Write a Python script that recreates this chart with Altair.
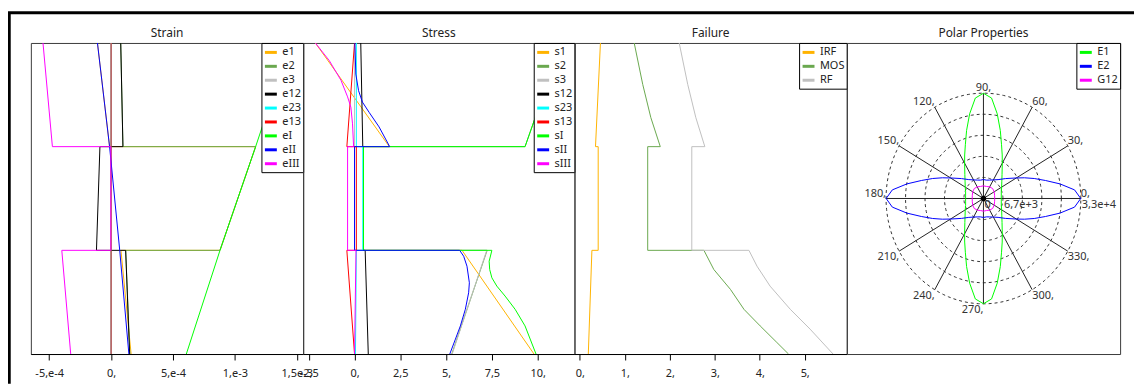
import altair as alt
import pandas as pd

# ---------------- Strain ----------------
strain_names = ["e1", "e2", "e3", "e12", "e23", "e13", "eI", "eII", "eIII"]
strain_z = [0, 1, 1, 2, 2, 3]
strain_e1 = [1.62e-4, 0.80e-4, 8.80e-4, 11.68e-4, -0.12e-4, -1.10e-4]
strain_e2 = [1.52e-4, 1.18e-4, 8.80e-4, 11.68e-4, 0.96e-4, 0.78e-4]
strain_e3 = [0.0, 0.0, 0.0, 0.0, 0.0, 0.0]
strain_e12 = [1.50e-4, 1.18e-4, -1.18e-4, -0.90e-4, 0.96e-4, 0.78e-4]
strain_e23 = [0.0, 0.0, 0.0, 0.0, 0.0, 0.0]
strain_e13 = [0.0, 0.0, 0.0, 0.0, 0.0, 0.0]
strain_eI = [6.08e-4, 8.80e-4, 8.80e-4, 11.68e-4, 11.68e-4, 14.48e-4]
strain_eII = [1.44e-4, 0.70e-4, 0.70e-4, -0.12e-4, -0.12e-4, -1.10e-4]
strain_eIII = [-3.26e-4, -3.98e-4, -0.02e-4, -0.02e-4, -4.74e-4, -5.50e-4]
strain_ticks = [-5e-4, 0.0, 5e-4, 1e-3, 1.5e-3]
strain_tick_labels = ["-5,e-4", "0,", "5,e-4", "1,e-3", "1,5e-3"]

# ---------------- Stress ----------------
stress_names = ["s1", "s2", "s3", "s12", "s23", "s13", "sI", "sII", "sIII"]
stress_z = [0, 1, 1, 2, 2, 3]
stress_s1 = [9.80, 5.87, 0.00, 0.00, 1.90, -2.14]
stress_s2 = [5.31, 7.24, 0.49, 0.49, 9.31, 11.30]
stress_s3 = [5.33, 7.22, 0.00, 0.00, 0.00, 0.00]
stress_s12 = [0.75, 0.58, 0.49, 0.49, 0.45, 0.34]
stress_s23 = [0.05, 0.10, 0.45, 0.45, 0.10, 0.10]
stress_s13 = [0.00, -0.42, 0.10, 0.10, -0.42, 0.00]
stress_sI_z = [0, 0.271, 0.431, 0.559, 0.655, 0.735, 0.815, 0.895, 1, 1, 2, 2, 3]
stress_sI = [9.91, 9.31, 8.77, 8.22, 7.77, 7.50, 7.38, 7.35, 7.50, 0.49, 0.49, 9.31, 11.30]
stress_sII_z = [0, 0.144, 0.271, 0.431, 0.591, 0.687, 0.847, 0.943, 1, 1, 2,
                2, 2.19, 2.33, 2.43, 2.54, 2.70, 3]
stress_sII = [5.20, 5.51, 5.78, 6.05, 6.23, 6.27, 6.14, 5.96, 5.74, 0.00, 0.00,
              1.92, 1.34, 0.80, 0.43, 0.22, 0.07, 0.02]
stress_sIII_z = [0, 1, 1, 2, 2, 2.22, 2.38, 2.48, 2.64, 2.83, 3]
stress_sIII = [0.00, 0.08, -0.38, -0.38, -0.05, -0.11, -0.20, -0.38, -0.74, -1.38, -2.14]
stress_ticks = [-2.5, 0.0, 2.5, 5.0, 7.5, 10.0]
stress_tick_labels = ["-2,5", "0,", "2,5", "5,", "7,5", "10,"]

# ---------------- Failure ----------------
fail_names = ["IRF", "MOS", "RF"]
fail_IRF_z = [0, 1, 1, 2, 2, 3]
fail_IRF = [0.19, 0.27, 0.41, 0.41, 0.35, 0.46]
fail_MOS_z = [0, 0.112, 0.271, 0.431, 0.623, 0.815, 1, 1, 2, 2, 2.28, 2.6, 3]
fail_MOS = [4.64, 4.38, 4.01, 3.65, 3.35, 2.98, 2.76, 1.51, 1.51, 1.79, 1.58, 1.40, 1.21]
fail_RF_z = [0, 0.24, 0.431, 0.655, 0.847, 1, 1, 2, 2, 2.28, 2.6, 3]
fail_RF = [5.63, 5.12, 4.68, 4.23, 3.94, 3.76, 2.49, 2.49, 2.78, 2.58, 2.40, 2.21]
fail_ticks = [0, 1, 2, 3, 4, 5]
fail_tick_labels = ["0,", "1,", "2,", "3,", "4,", "5,"]

# ---------------- Polar properties ----------------
polar_names = ["E1", "E2", "G12"]
E1_angle = [0, 10, 20, 30, 40, 50, 60, 65, 70, 75, 80, 85, 90,
            95, 100, 105, 110, 115, 120, 130, 140, 150, 160, 170, 180,
            190, 200, 210, 220, 230, 240, 245, 250, 255, 260, 265, 270,
            275, 280, 285, 290, 295, 300, 310, 320, 330, 340, 350, 360]
E1_r = [6100, 6200, 6500, 7200, 8200, 9900, 12900, 15200, 18100, 22300, 27200, 31900, 33300,
        31900, 27200, 22300, 18100, 15200, 12900, 9900, 8200, 7200, 6500, 6200, 6100,
        6200, 6500, 7200, 8200, 9900, 12900, 15200, 18100, 22300, 27200, 31900, 33300,
        31900, 27200, 22300, 18100, 15200, 12900, 9900, 8200, 7200, 6500, 6200, 6100]
E2_angle = [0, 5, 10, 15, 20, 25, 30, 40, 50, 60, 70, 80, 90,
            100, 110, 120, 130, 140, 150, 155, 160, 165, 170, 175, 180,
            185, 190, 195, 200, 205, 210, 220, 230, 240, 250, 260, 270,
            280, 290, 300, 310, 320, 330, 335, 340, 345, 350, 355, 360]
E2_r = [33300, 31300, 26600, 22000, 18500, 15500, 13000, 9800, 7800, 6800, 6200, 5900, 6000,
        5900, 6200, 6800, 7800, 9800, 13000, 15500, 18500, 22000, 26600, 31300, 33300,
        31300, 26600, 22000, 18500, 15500, 13000, 9800, 7800, 6800, 6200, 5900, 6000,
        5900, 6200, 6800, 7800, 9800, 13000, 15500, 18500, 22000, 26600, 31300, 33300]
G12_angle = [0, 15, 30, 45, 60, 75, 90, 105, 120, 135, 150, 165, 180,
             195, 210, 225, 240, 255, 270, 285, 300, 315, 330, 345, 360]
G12_r = [3850, 3950, 4250, 4450, 4250, 3950, 4000, 3950, 4250, 4450, 4250, 3950, 3850,
         3950, 4250, 4450, 4250, 3950, 4000, 3950, 4250, 4450, 4250, 3950, 3850]
ring_values = [6667, 13333, 20000, 26667, 33333]
ring_label_values = [0, 6667, 33333]
ring_labels = ["0", "6,7e+3", "3,3e+4"]
spoke_angles = [0, 30, 60, 90, 120, 150, 180, 210, 240, 270, 300, 330]
spoke_labels = ["0,", "30,", "60,", "90,", "120,", "150,", "180,", "210,", "240,", "270,", "300,", "330,"]

# ---------------- styles ----------------
FONT = "Noto Sans"
ORANGE, OLIVE, SILVER = "#FFB300", "#6AA84F", "#C0C0C0"
six_colors = [ORANGE, OLIVE, SILVER, "#000000", "#00FFFF", "#FF0000", "#00FF00", "#0000FF", "#FF00FF"]
fail_colors = [ORANGE, OLIVE, SILVER]
polar_colors = ["#00FF00", "#0000FF", "#FF00FF"]
H = 313
TITLE_OFFSET = 2


def frame(entries):
    rows = []
    for name, zs, vs in entries:
        for i, (z, v) in enumerate(zip(zs, vs)):
            rows.append({"series": name, "z": z, "v": v, "idx": i})
    return pd.DataFrame(rows)


def label_expr(vals, labs):
    s = "''"
    for v, l in reversed(list(zip(vals, labs))):
        s = f"abs(datum.value - ({v!r})) < 1e-9 ? '{l}' : {s}"
    return s


def ttl(text):
    return alt.TitleParams(text, frame="group", anchor="middle", offset=TITLE_OFFSET)


def profile(df, names, colors, dom, ticks, labels, width, title=None, extra=()):
    lines = alt.Chart(df).mark_line(strokeWidth=1, clip=True).encode(
        x=alt.X("v:Q", scale=alt.Scale(domain=dom, nice=False, zero=False),
                axis=alt.Axis(values=ticks, labelExpr=label_expr(ticks, labels), title=None)),
        y=alt.Y("z:Q", scale=alt.Scale(domain=[0, 3], nice=False, zero=False), axis=None),
        color=alt.Color("series:N", scale=alt.Scale(domain=names, range=colors),
                        legend=alt.Legend(title=None)),
        order="idx:Q",
    )
    props = dict(width=width, height=H)
    if title is not None:
        props["title"] = ttl(title)
    return alt.layer(lines, *extra).properties(**props)


strain_df = frame([
    ("e1", strain_z, strain_e1), ("e2", strain_z, strain_e2), ("e3", strain_z, strain_e3),
    ("e12", strain_z, strain_e12), ("e23", strain_z, strain_e23), ("e13", strain_z, strain_e13),
    ("eI", strain_z, strain_eI), ("eII", strain_z, strain_eII), ("eIII", strain_z, strain_eIII),
])
stress_df = frame([
    ("s1", stress_z, stress_s1), ("s2", stress_z, stress_s2), ("s3", stress_z, stress_s3),
    ("s12", stress_z, stress_s12), ("s23", stress_z, stress_s23), ("s13", stress_z, stress_s13),
    ("sI", stress_sI_z, stress_sI), ("sII", stress_sII_z, stress_sII), ("sIII", stress_sIII_z, stress_sIII),
])
fail_df = frame([("IRF", fail_IRF_z, fail_IRF), ("MOS", fail_MOS_z, fail_MOS), ("RF", fail_RF_z, fail_RF)])

# outer black frame of the figure (decoration) and the Strain heading
one = pd.DataFrame({"k": [0]})
frame_top = alt.Chart(one).mark_rule(color="black", strokeWidth=3).encode(
    x=alt.value(-23.75), x2=alt.value(1110), y=alt.value(-30.5))
frame_left = alt.Chart(one).mark_rule(color="black", strokeWidth=3.5).encode(
    x=alt.value(-22), y=alt.value(-31), y2=alt.value(343))
strain_title = alt.Chart(one).mark_text(
    text="Strain", align="center", baseline="alphabetic", font=FONT, fontSize=12, color="#222222"
).encode(x=alt.value(137), y=alt.value(-5.5))

strain = profile(strain_df, strain_names, six_colors, [-6.48e-4, 1.552e-3],
                 strain_ticks, strain_tick_labels, 274, None, (frame_top, frame_left, strain_title))
stress = profile(stress_df, stress_names, six_colors, [-2.805, 12.01],
                 stress_ticks, stress_tick_labels, 273, "Stress")
failure = profile(fail_df, fail_names, fail_colors, [-0.117, 5.935],
                  fail_ticks, fail_tick_labels, 274, "Failure")

# ---- polar ----
curve_rows = []
for name, angs, rs in [("E1", E1_angle, E1_r), ("E2", E2_angle, E2_r), ("G12", G12_angle, G12_r)]:
    for i, (a, r) in enumerate(zip(angs, rs)):
        curve_rows.append({"series": name, "a": a, "r": r, "idx": i})
curves_df = pd.DataFrame(curve_rows)
ring_df = pd.DataFrame([{"ring": rv, "a": a} for rv in ring_values for a in range(0, 361, 3)])
spoke_df = pd.DataFrame({"a": spoke_angles, "label": spoke_labels, "r": [ring_values[-1]] * len(spoke_angles)})
rlab_df = pd.DataFrame({"v": ring_label_values, "label": ring_labels})

PX = alt.Scale(domain=[-46769, 46769], nice=False, zero=False)
PY = alt.Scale(domain=[-49214, 49214], nice=False, zero=False)
CX = "datum.r*cos(datum.a*PI/180)"
CY = "datum.r*sin(datum.a*PI/180)"

rings = alt.Chart(ring_df).transform_calculate(
    px="datum.ring*cos(datum.a*PI/180)", py="datum.ring*sin(datum.a*PI/180)"
).mark_line(color="#333333", strokeWidth=1, strokeDash=[3, 3]).encode(
    x=alt.X("px:Q", scale=PX, axis=None), y=alt.Y("py:Q", scale=PY, axis=None),
    detail="ring:N", order="a:Q")
spokes = alt.Chart(spoke_df).transform_calculate(
    px="0", py="0", px2=CX, py2=CY
).mark_rule(color="#222222", strokeWidth=1).encode(
    x=alt.X("px:Q", scale=PX, axis=None), y=alt.Y("py:Q", scale=PY, axis=None),
    x2="px2:Q", y2="py2:Q")
curves = alt.Chart(curves_df).transform_calculate(px=CX, py=CY).mark_line(strokeWidth=1).encode(
    x=alt.X("px:Q", scale=PX, axis=None), y=alt.Y("py:Q", scale=PY, axis=None),
    color=alt.Color("series:N", scale=alt.Scale(domain=polar_names, range=polar_colors),
                    legend=alt.Legend(title=None)),
    order="idx:Q")

label_groups = [
    ("cos(datum.a*PI/180) > 0.1 && sin(datum.a*PI/180) >= 0", "left", "bottom"),
    ("cos(datum.a*PI/180) > 0.1 && sin(datum.a*PI/180) < 0", "left", "top"),
    ("cos(datum.a*PI/180) < -0.1 && sin(datum.a*PI/180) >= -0.01", "right", "bottom"),
    ("cos(datum.a*PI/180) < -0.1 && sin(datum.a*PI/180) < -0.01", "right", "top"),
    ("abs(cos(datum.a*PI/180)) <= 0.1 && sin(datum.a*PI/180) > 0", "center", "bottom"),
    ("abs(cos(datum.a*PI/180)) <= 0.1 && sin(datum.a*PI/180) < 0", "right", "top"),
]
spoke_texts = []
for cond, al, bl in label_groups:
    spoke_texts.append(
        alt.Chart(spoke_df).transform_filter(cond).transform_calculate(px=CX, py=CY)
        .mark_text(align=al, baseline=bl, font=FONT, fontSize=11, color="#333333")
        .encode(x=alt.X("px:Q", scale=PX, axis=None), y=alt.Y("py:Q", scale=PY, axis=None),
                text="label:N"))
ring_text = alt.Chart(rlab_df).transform_calculate(px="datum.v", py="0").mark_text(
    align="left", baseline="top", dx=1, dy=1, font=FONT, fontSize=11, color="#333333"
).encode(x=alt.X("px:Q", scale=PX, axis=None), y=alt.Y("py:Q", scale=PY, axis=None), text="label:N")
center_dot = alt.Chart(rlab_df).transform_filter("datum.v == 0").transform_calculate(
    px="datum.v", py="datum.v").mark_circle(color="black", size=30, opacity=1).encode(
    x=alt.X("px:Q", scale=PX, axis=None), y=alt.Y("py:Q", scale=PY, axis=None))

polar = alt.layer(rings, spokes, curves, *spoke_texts, ring_text, center_dot).properties(
    title=ttl("Polar Properties"), width=275, height=H)

chart = alt.hconcat(strain, stress, failure, polar, spacing=0, bounds="flush").resolve_scale(
    color="independent"
).properties(
    autosize=alt.AutoSizeParams(type="pad"),
    padding={"left": -3, "top": 0, "right": 0, "bottom": 0},
    background="white",
).configure_view(
    stroke="#3a3a3a", strokeWidth=1
).configure_axis(
    domainColor="#000000", tickColor="#000000", tickSize=6, labelFontSize=11, labelFont=FONT,
    labelColor="#222222", labelPadding=8, grid=False, labelFlush=False, labelOverlap=False,
).configure_title(
    font=FONT, fontSize=12, fontWeight="normal", color="#222222"
).configure_legend(
    orient="top-right", offset=0, strokeColor="#000000", fillColor="white", padding=2,
    symbolType="stroke", symbolStrokeWidth=3, symbolSize=144, labelFontSize=11, labelFont=FONT,
    labelColor="#222222", rowPadding=0, labelOffset=4, cornerRadius=0,
)

chart.save("out.html", embed_options={"renderer": "svg", "actions": False})
